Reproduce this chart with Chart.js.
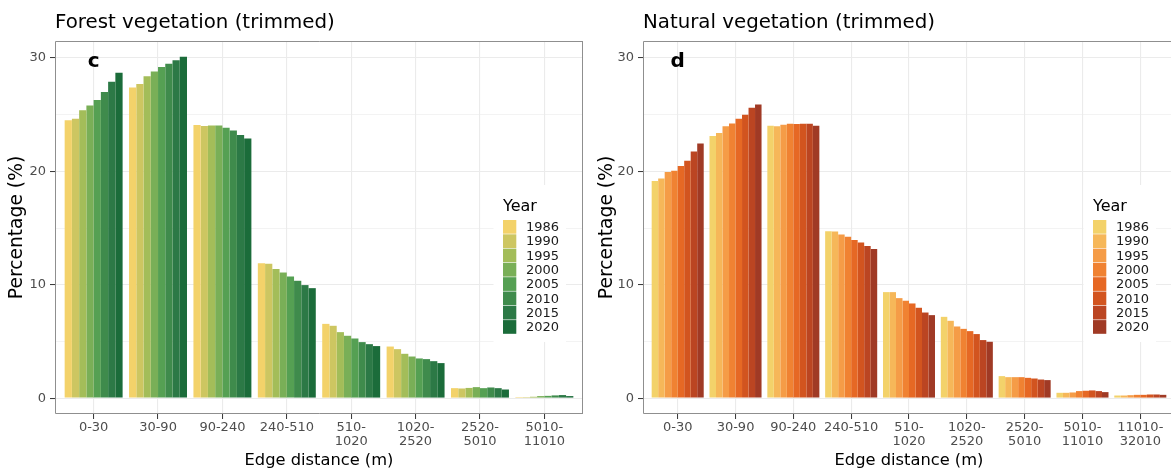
<!DOCTYPE html>
<html>
<head>
<meta charset="utf-8">
<script src="https://cdn.jsdelivr.net/npm/chart.js@4.4.1/dist/chart.umd.min.js"></script>
<style>
  html, body { margin: 0; padding: 0; background: #ffffff; overflow: hidden; width: 1171px; height: 474px; }
  .panel { position: absolute; top: 0; height: 474px; overflow: hidden; }
  #forestBox { left: 0; width: 590px; }
  #naturalBox { left: 590px; width: 581px; }
</style>
</head>
<body>
<div class="panel" id="forestBox"><canvas id="forest" width="590" height="474"></canvas></div>
<div class="panel" id="naturalBox"><canvas id="natural" width="590" height="474"></canvas></div>
<script>
// Survey years shown in both panels
const years = ['1986', '1990', '1995', '2000', '2005', '2010', '2015', '2020'];

// Edge-distance classes (tick labels, split over two lines where long)
const forestTickLabels = [['0-30'], ['30-90'], ['90-240'], ['240-510'], ['510-', '1020'], ['1020-', '2520'], ['2520-', '5010'], ['5010-', '11010']];
const naturalTickLabels = [['0-30'], ['30-90'], ['90-240'], ['240-510'], ['510-', '1020'], ['1020-', '2520'], ['2520-', '5010'], ['5010-', '11010'], ['11010-', '32010']];

// Forest vegetation: percentage of area per distance class, one array per year
const forest1986 = [24.5, 27.4, 24.1, 11.9, 6.55, 4.55, 0.88, 0.09];
const forest1990 = [24.65, 27.7, 24.0, 11.85, 6.38, 4.32, 0.85, 0.09];
const forest1995 = [25.4, 28.4, 24.05, 11.38, 5.82, 3.91, 0.9, 0.12];
const forest2000 = [25.8, 28.8, 24.05, 11.08, 5.5, 3.67, 0.97, 0.18];
const forest2005 = [26.3, 29.2, 23.85, 10.73, 5.26, 3.5, 0.88, 0.2];
const forest2010 = [27.0, 29.5, 23.6, 10.35, 4.94, 3.44, 0.94, 0.24];
const forest2015 = [27.9, 29.8, 23.2, 9.97, 4.76, 3.26, 0.88, 0.27];
const forest2020 = [28.7, 30.1, 22.9, 9.7, 4.59, 3.09, 0.76, 0.18];

// Natural vegetation: percentage of area per distance class, one array per year
const natural1986 = [19.15, 23.12, 24.03, 14.73, 9.35, 7.17, 1.94, 0.47, 0.23];
const natural1990 = [19.38, 23.38, 23.97, 14.7, 9.35, 6.82, 1.85, 0.47, 0.23];
const natural1995 = [19.94, 23.97, 24.12, 14.44, 8.82, 6.32, 1.85, 0.5, 0.26];
const natural2000 = [20.06, 24.23, 24.2, 14.23, 8.59, 6.11, 1.85, 0.62, 0.29];
const natural2005 = [20.47, 24.64, 24.18, 13.94, 8.35, 5.91, 1.79, 0.65, 0.29];
const natural2010 = [20.94, 25.0, 24.2, 13.73, 7.97, 5.65, 1.73, 0.68, 0.32];
const natural2015 = [21.76, 25.62, 24.2, 13.41, 7.55, 5.12, 1.64, 0.62, 0.32];
const natural2020 = [22.47, 25.91, 24.03, 13.15, 7.32, 4.97, 1.59, 0.53, 0.29];

// Y axis: major ticks every 10, minor grid every 5
const yTicks = [0, 5, 10, 15, 20, 25, 30];

const greenPalette = ['#F3D26A', '#CDC661', '#A3BD59', '#79AF57', '#55A053', '#3F8B4C', '#2C7946', '#1B6C3A'];
const orangePalette = ['#F3D26A', '#F6B759', '#F59C47', '#F08232', '#E66824', '#D2541F', '#BB4522', '#A03A25'];

const FONT = '"DejaVu Sans", "Liberation Sans", sans-serif';

// Titles, panel letter, border and the inset "Year" legend
const panelDecor = {
  id: 'panelDecor',
  afterDraw(chart, args, opts) {
    const { ctx, chartArea: a, scales } = chart;
    ctx.save();

    // panel border (the right side only where the panel ends inside the page)
    const l = Math.round(a.left) + 0.5;
    const t = Math.round(a.top) + 0.5;
    const r = Math.round(a.right) - 0.5;
    const b = Math.round(a.bottom) - 0.5;
    ctx.strokeStyle = '#8f8f8f';
    ctx.lineWidth = 1;
    ctx.beginPath();
    ctx.moveTo(r + 0.5, t);
    ctx.lineTo(l, t);
    ctx.lineTo(l, b);
    ctx.lineTo(r + 0.5, b);
    if (opts.rightEdge) {
      ctx.moveTo(r, t);
      ctx.lineTo(r, b);
    }
    ctx.stroke();

    // panel title
    ctx.fillStyle = '#000000';
    ctx.font = '19.8px ' + FONT;
    ctx.textAlign = 'left';
    ctx.textBaseline = 'alphabetic';
    ctx.fillText(opts.title, a.left, 28);

    // panel letter at the first class, y = 30
    ctx.font = 'bold 20px ' + FONT;
    ctx.textAlign = 'center';
    ctx.fillText(opts.letter, scales.x.getPixelForValue(0), scales.y.getPixelForValue(30) + 8.5);

    // legend
    const kx = a.left + opts.legendX;
    const ky = 220;
    const kh = 14.3;
    ctx.fillStyle = '#ffffff';
    ctx.fillRect(kx - 9.5, 185, 72.5, 157);
    ctx.fillStyle = '#000000';
    ctx.font = '16px ' + FONT;
    ctx.textAlign = 'left';
    ctx.textBaseline = 'alphabetic';
    ctx.fillText('Year', kx, 210.5);
    chart.data.datasets.forEach((ds, i) => {
      ctx.fillStyle = ds.backgroundColor;
      ctx.fillRect(kx, ky + i * kh, 13.3, kh - 0.6);
      ctx.fillStyle = '#1a1a1a';
      ctx.font = '13px ' + FONT;
      ctx.textBaseline = 'middle';
      ctx.fillText(ds.label, kx + 23, ky + i * kh + kh / 2 + 0.5);
    });
    ctx.restore();
  }
};

function makePanel(canvasId, tickLabels, series, palette, title, letter, yAxisWidth, padRight, legendX, rightEdge) {
  const datasets = series.map((values, i) => ({
    label: years[i],
    data: values.map((v, k) => ({ x: k, y: v })),
    backgroundColor: palette[i],
    borderWidth: 0,
    categoryPercentage: 0.9,
    barPercentage: 1.0
  }));

  return new Chart(document.getElementById(canvasId), {
    type: 'bar',
    data: { datasets },
    plugins: [panelDecor],
    options: {
      responsive: false,
      devicePixelRatio: 1,
      animation: false,
      layout: { padding: { top: 41, right: padRight, left: 0, bottom: 0 } },
      plugins: {
        legend: { display: false },
        tooltip: { enabled: false },
        title: { display: false },
        panelDecor: { title, letter, legendX, rightEdge }
      },
      scales: {
        x: {
          type: 'linear',
          offset: false,
          min: -0.6,
          max: tickLabels.length - 1 + 0.6,
          afterBuildTicks: (scale) => { scale.ticks = tickLabels.map((_, i) => ({ value: i })); },
          afterFit: (scale) => { scale.height = 60; },
          border: { display: false },
          grid: {
            offset: false,
            color: '#EBEBEB',
            lineWidth: 1.1,
            tickLength: 5,
            tickColor: '#333333',
            tickWidth: 1
          },
          ticks: {
            autoSkip: false,
            maxRotation: 0,
            padding: 2,
            color: '#4D4D4D',
            font: { family: FONT, size: 13, lineHeight: 1.04 },
            callback: (v) => tickLabels[v]
          },
          title: {
            display: true,
            text: 'Edge distance (m)',
            color: '#000000',
            font: { family: FONT, size: 16.3 },
            padding: { top: 0, bottom: 3 }
          }
        },
        y: {
          min: -1.4,
          max: 31.5,
          afterBuildTicks: (scale) => { scale.ticks = yTicks.map((v) => ({ value: v })); },
          afterFit: (scale) => { scale.width = yAxisWidth; },
          border: { display: false },
          grid: {
            color: '#EBEBEB',
            lineWidth: (c) => (c.tick && c.tick.value % 10 === 0 ? 1.1 : 0.6),
            tickLength: 5,
            tickColor: (c) => (c.tick && c.tick.value % 10 === 0 ? '#333333' : 'rgba(0,0,0,0)'),
            tickWidth: 1
          },
          ticks: {
            padding: 4,
            color: '#4D4D4D',
            font: { family: FONT, size: 13 },
            callback: (v) => (v % 10 === 0 ? String(v) : '')
          },
          title: {
            display: true,
            text: 'Percentage (%)',
            color: '#000000',
            font: { family: FONT, size: 18.7 },
            padding: { top: 6, bottom: 0 }
          }
        }
      }
    }
  });
}

makePanel('forest', forestTickLabels,
  [forest1986, forest1990, forest1995, forest2000, forest2005, forest2010, forest2015, forest2020],
  greenPalette, 'Forest vegetation (trimmed)', 'c', 55, 7, 448, true);

makePanel('natural', naturalTickLabels,
  [natural1986, natural1990, natural1995, natural2000, natural2005, natural2010, natural2015, natural2020],
  orangePalette, 'Natural vegetation (trimmed)', 'd', 53, 5, 450, false);
</script>
</body>
</html>
